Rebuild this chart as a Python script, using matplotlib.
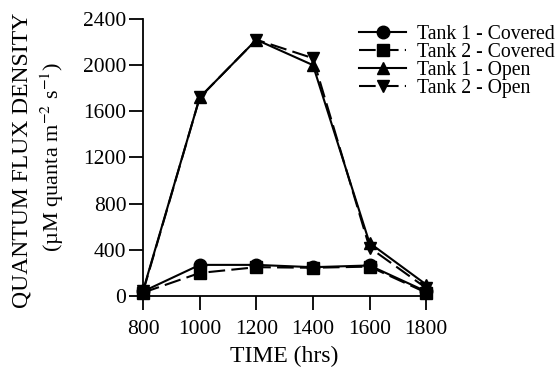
import numpy as np
import matplotlib.pyplot as plt

plt.rcParams['font.family'] = ['Liberation Serif', 'DejaVu Serif']
plt.rcParams['mathtext.fontset'] = 'stix'

time = [800, 1000, 1200, 1400, 1600, 1800]
tank1_covered = [40, 270, 270, 250, 265, 40]
tank2_covered = [30, 200, 250, 245, 255, 30]
tank1_open = [50, 1720, 2220, 2000, 460, 100]
tank2_open = [40, 1720, 2220, 2060, 420, 70]

fig = plt.figure(figsize=(5.57, 3.71), dpi=100)
ax = fig.add_axes([0.257, 0.202, 0.508, 0.747])

dash = (0, (8, 3))
ms = 9
ax.plot(time, tank1_covered, '-', marker='o', color='black', lw=1.5, ms=ms,
        label='Tank 1 - Covered')
ax.plot(time, tank2_covered, linestyle=dash, marker='s', color='black', lw=1.5, ms=ms - 1,
        label='Tank 2 - Covered')
ax.plot(time, tank1_open, '-', marker='^', color='black', lw=1.5, ms=ms,
        label='Tank 1 - Open')
ax.plot(time, tank2_open, linestyle=dash, marker='v', color='black', lw=1.5, ms=ms,
        label='Tank 2 - Open')

ax.set_xlim(800, 1800)
ax.set_ylim(0, 2400)
ax.set_xticks(time)
ax.set_yticks(np.arange(0, 2401, 400))
ax.spines['top'].set_visible(False)
ax.spines['right'].set_visible(False)
ax.spines['left'].set_linewidth(1.3)
ax.spines['bottom'].set_linewidth(1.3)
ax.tick_params(axis='both', direction='out', length=10, width=1.3, labelsize=15.5, pad=2)
ax.tick_params(axis='x', pad=7)
for line in ax.lines:
    line.set_clip_on(False)

ax.set_xlabel('TIME (hrs)', fontsize=17, labelpad=5)

# two-line y label placed by hand
fig.text(22 / 557, 1 - 160 / 371, 'QUANTUM FLUX DENSITY', rotation=90,
         ha='center', va='center', fontsize=17)
fig.text(52 / 557, 1 - 157 / 371, '(µM quanta m$^{-2}$ s$^{-1}$)', rotation=90,
         ha='center', va='center', fontsize=16)

ax.legend(loc='upper left', bbox_to_anchor=(359 / 557, 1 - 25 / 371),
          bbox_transform=fig.transFigure, frameon=False, fontsize=14.2,
          handlelength=2.4, handletextpad=0.55, labelspacing=-0.05,
          borderaxespad=0, borderpad=0)

fig.savefig('out.png', dpi=100)
